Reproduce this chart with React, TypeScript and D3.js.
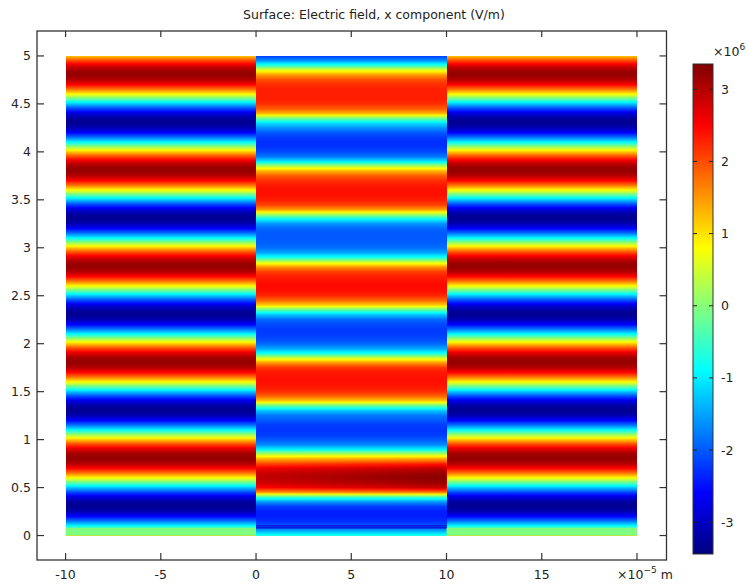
import * as d3 from "d3";

// colour range of the legend, x10^6 V/m
const cMin = -3.44;
const cMax = 3.35;

const xTicks = [-10, -5, 0, 5, 10, 15, 20];
const yTicks = [0, 0.5, 1, 1.5, 2, 2.5, 3, 3.5, 4, 4.5, 5];
const cTicks = [-3, -2, -1, 0, 1, 2, 3];

// profile grid along y (x10^-5 m)
const yStep = 0.05;

// outer domains (x = -10..0 and 10..20), Ex sampled at y = 0, 0.05, ... 5
const outerE = [
  1.16, 0.16, -0.87, -1.81, -2.58, -3.1, -3.32, -3.23, -2.82, -2.14,
  -1.26, -0.26, 0.77, 1.71, 2.48, 3.0, 3.22, 3.13, 2.72, 2.04,
  1.16, 0.16, -0.87, -1.81, -2.58, -3.1, -3.32, -3.23, -2.82, -2.14,
  -1.26, -0.26, 0.77, 1.71, 2.48, 3.0, 3.22, 3.13, 2.72, 2.04,
  1.16, 0.16, -0.87, -1.81, -2.58, -3.1, -3.32, -3.23, -2.82, -2.14,
  -1.26, -0.26, 0.77, 1.71, 2.48, 3.0, 3.22, 3.13, 2.72, 2.04,
  1.16, 0.16, -0.87, -1.81, -2.58, -3.1, -3.32, -3.23, -2.82, -2.14,
  -1.26, -0.26, 0.77, 1.71, 2.48, 3.0, 3.22, 3.13, 2.72, 2.04,
  1.16, 0.16, -0.87, -1.81, -2.58, -3.1, -3.32, -3.23, -2.82, -2.14,
  -1.26, -0.26, 0.77, 1.71, 2.48, 3.0, 3.22, 3.13, 2.72, 2.04,
  1.16,
];

// thin layer at the bottom of the outer domains
const stripTop = 0.08;
const stripE = -0.05;

// middle domain (x = 0..10), Ex at the left side, same y grid
const midE = [
  -0.7, -1.5, -2.0, -2.3, -2.4, -2.4, -2.2, -1.6, -0.5, 1.5,
  2.5, 2.8, 2.9, 2.85, 2.6, 2.0, 1.3, 0.3, -1.0, -1.7,
  -2.0, -2.2, -2.25, -2.2, -2.0, -1.8, -1.3, -0.3, 1.1, 1.8,
  2.2, 2.35, 2.4, 2.4, 2.35, 2.15, 1.5, 0.5, -0.8, -1.5,
  -1.9, -2.1, -2.2, -2.2, -2.1, -1.9, -1.3, -0.3, 1.1, 1.8,
  2.25, 2.4, 2.45, 2.4, 2.3, 2.1, 1.5, 0.5, -0.8, -1.5,
  -1.85, -1.95, -2.0, -2.0, -1.9, -1.6, -0.9, 0.3, 1.5, 2.1,
  2.3, 2.4, 2.4, 2.35, 2.2, 1.9, 1.3, 0.3, -1.0, -1.8,
  -2.1, -2.25, -2.3, -2.2, -2.0, -1.6, -1.1, -0.1, 1.3, 1.9,
  2.2, 2.3, 2.3, 2.3, 2.2, 2.0, 1.5, 0.7, -0.6, -1.6,
  -2.2,
];

// right side of the middle domain, lowest red band (y = 0.40 .. 0.85)
const midRightStart = 0.4;
const midRightE = [-0.5, 1.7, 2.9, 3.2, 3.3, 3.2, 2.95, 2.3, 1.4, 0.3];

// thin dark lines at the bottom of the middle domain
const midLinesY = [0.08, 0.1];
const midLineE = -2.9;

const domains = [
  { x0: -10, x1: 0, kind: "outer" },
  { x0: 0, x1: 10, kind: "mid" },
  { x0: 10, x1: 20, kind: "outer" },
];

const font = "'DejaVu Sans', sans-serif";
const axisColor = "#333";

const x = d3.scaleLinear().domain([-11.5, 21.55]).range([37, 666.5]);
const y = d3.scaleLinear().domain([-0.255, 5.26]).range([560, 31]);
const cy = d3.scaleLinear().domain([cMin, cMax]).range([554, 64]);

// jet colour table
const jetT = d3
  .scaleLinear<string>()
  .domain([0, 0.125, 0.375, 0.625, 0.875, 1])
  .range(["#000080", "#0000ff", "#00ffff", "#ffff00", "#ff0000", "#800000"])
  .clamp(true);
const toT = d3.scaleLinear().domain([cMin, cMax]).clamp(true);
const jet = (v: number) => jetT(toT(v));

function stops(vals: number[], sub = 4) {
  const out: { o: number; c: string }[] = [];
  const n = vals.length;
  for (let i = 0; i < n - 1; i++) {
    for (let s = 0; s < sub; s++) {
      const v = vals[i] + ((vals[i + 1] - vals[i]) * s) / sub;
      out.push({ o: (i + s / sub) / (n - 1), c: jet(v) });
    }
  }
  out.push({ o: 1, c: jet(vals[n - 1]) });
  return out;
}

export default function App() {
  const yTop = (outerE.length - 1) * yStep;
  const midRightEnd = midRightStart + (midRightE.length - 1) * yStep;

  return (
    <svg
      width={748}
      height={585}
      style={{ position: "absolute", left: 0, top: 0, background: "#fff" }}
      fontFamily={font}
    >
      <defs>
        <linearGradient id="outerG" gradientUnits="userSpaceOnUse" x1={0} x2={0} y1={y(0)} y2={y(yTop)}>
          {stops(outerE).map((s, i) => (
            <stop key={i} offset={s.o} stopColor={s.c} />
          ))}
        </linearGradient>
        <linearGradient id="midG" gradientUnits="userSpaceOnUse" x1={0} x2={0} y1={y(0)} y2={y(yTop)}>
          {stops(midE).map((s, i) => (
            <stop key={i} offset={s.o} stopColor={s.c} />
          ))}
        </linearGradient>
        <linearGradient id="midRG" gradientUnits="userSpaceOnUse" x1={0} x2={0} y1={y(midRightStart)} y2={y(midRightEnd)}>
          {stops(midRightE).map((s, i) => (
            <stop key={i} offset={s.o} stopColor={s.c} />
          ))}
        </linearGradient>
        <linearGradient id="fadeH" gradientUnits="userSpaceOnUse" x1={x(0)} x2={x(10)} y1={0} y2={0}>
          <stop offset={0} stopColor="#000" />
          <stop offset={1} stopColor="#fff" />
        </linearGradient>
        <mask id="fadeMask" maskUnits="userSpaceOnUse" x={0} y={0} width={748} height={585}>
          <rect x={x(0)} y={y(midRightEnd)} width={x(10) - x(0)} height={y(midRightStart) - y(midRightEnd)} fill="url(#fadeH)" />
        </mask>
        <linearGradient id="cbarG" x1={0} x2={0} y1={1} y2={0}>
          {d3.range(0, 1.0001, 0.125).map((t, i) => (
            <stop key={i} offset={t} stopColor={jetT(t)} />
          ))}
        </linearGradient>
      </defs>

      {/* title */}
      <text x={374} y={19} textAnchor="middle" fontSize={12.5} fill="#222">
        Surface: Electric field, x component (V/m)
      </text>

      {/* surface */}
      {domains.map((d, i) => (
        <rect
          key={i}
          x={x(d.x0)}
          y={y(yTop)}
          width={x(d.x1) - x(d.x0)}
          height={y(0) - y(yTop)}
          fill={d.kind === "outer" ? "url(#outerG)" : "url(#midG)"}
          shapeRendering="crispEdges"
        />
      ))}
      {domains
        .filter((d) => d.kind === "outer")
        .map((d, i) => (
          <rect
            key={"s" + i}
            x={x(d.x0)}
            y={y(stripTop)}
            width={x(d.x1) - x(d.x0)}
            height={y(0) - y(stripTop)}
            fill={jet(stripE)}
          />
        ))}
      <rect
        x={x(0)}
        y={y(midRightEnd)}
        width={x(10) - x(0)}
        height={y(midRightStart) - y(midRightEnd)}
        fill="url(#midRG)"
        mask="url(#fadeMask)"
      />
      {midLinesY.map((v, i) => (
        <rect key={"l" + i} x={x(0)} y={y(v) - 0.6} width={x(10) - x(0)} height={1.2} fill={jet(midLineE)} />
      ))}

      {/* frame */}
      <rect x={x(-11.5)} y={y(5.26)} width={x(21.55) - x(-11.5)} height={y(-0.255) - y(5.26)} fill="none" stroke={axisColor} strokeWidth={1.3} />

      {xTicks.map((t) => (
        <g key={"x" + t}>
          <line x1={x(t)} x2={x(t)} y1={560} y2={553} stroke={axisColor} strokeWidth={1.2} />
          <line x1={x(t)} x2={x(t)} y1={31} y2={37} stroke={axisColor} strokeWidth={1.2} />
          {t !== 20 && (
            <text x={x(t)} y={579} textAnchor="middle" fontSize={12.5} fill="#222">
              {t}
            </text>
          )}
        </g>
      ))}
      <text x={617} y={579} fontSize={12.5} fill="#222">
        ×10
        <tspan fontSize={9} dy={-6}>−5</tspan>
        <tspan dy={6}> m</tspan>
      </text>

      {yTicks.map((t) => (
        <g key={"y" + t}>
          <line x1={37} x2={44} y1={y(t)} y2={y(t)} stroke={axisColor} strokeWidth={1.2} />
          <line x1={666.5} x2={659.5} y1={y(t)} y2={y(t)} stroke={axisColor} strokeWidth={1.2} />
          <text x={31} y={y(t)} dy="0.36em" textAnchor="end" fontSize={12.5} fill="#222">
            {t}
          </text>
        </g>
      ))}

      {/* colour legend */}
      <rect x={693} y={64} width={20} height={490} fill="url(#cbarG)" stroke={axisColor} strokeWidth={1} />
      {cTicks.map((t) => (
        <g key={"c" + t}>
          <line x1={693} x2={697} y1={cy(t)} y2={cy(t)} stroke="#222" strokeWidth={1} />
          <line x1={709} x2={713} y1={cy(t)} y2={cy(t)} stroke="#222" strokeWidth={1} />
          <text x={721} y={cy(t)} dy="0.36em" fontSize={12.5} fill="#222">
            {t}
          </text>
        </g>
      ))}
      <text x={713} y={56} fontSize={12.5} fill="#222">
        ×10
        <tspan fontSize={9} dy={-6}>6</tspan>
      </text>
    </svg>
  );
}
